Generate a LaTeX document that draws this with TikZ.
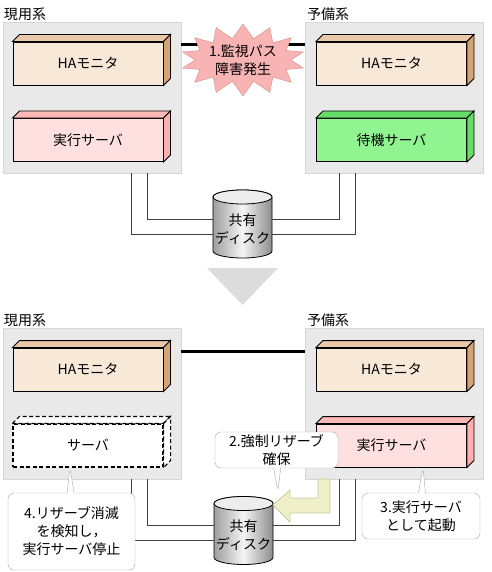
\documentclass[tikz,border=0pt]{standalone}
\usepackage{fontspec}
\setmainfont{Noto Sans CJK JP}
\usepackage{tikz}
\usetikzlibrary{shapes.symbols,shapes.callouts}

\definecolor{panelgray}{HTML}{E9E9E9}
\definecolor{panelline}{HTML}{D6D6D6}
\definecolor{hafront}{HTML}{F8E8D8}
\definecolor{hatop}{HTML}{E8C8A8}
\definecolor{haside}{HTML}{D4A478}
\definecolor{exfront}{HTML}{FFE0E0}
\definecolor{extop}{HTML}{FFB8B8}
\definecolor{exside}{HTML}{FFB0B0}
\definecolor{sbfront}{HTML}{90F590}
\definecolor{sbtop}{HTML}{66DD66}
\definecolor{burstfill}{HTML}{F8B4B4}
\definecolor{burstline}{HTML}{D88A8A}
\definecolor{arrowfill}{HTML}{F0F0C8}
\definecolor{arrowline}{HTML}{C8C8A0}
\definecolor{nextgray}{HTML}{DCDCDC}

\newcommand{\jpsize}{\fontsize{14}{18}\selectfont}

\tikzset{panel/.style={draw=panelline,fill=panelgray,minimum width=178pt,minimum height=151pt,inner sep=0pt},
  syslabel/.style={anchor=south west,inner sep=0pt,font=\jpsize},
  cube/.style={draw,line width=0.9pt,minimum width=150pt,minimum height=43pt,inner sep=0pt,font=\jpsize},
  lostcube/.style={draw,line width=1.1pt,dash pattern=on 4pt off 2.5pt,fill=white},
  hbpath/.style={line width=3.2pt},
  link/.style={draw=black!75,line width=0.8pt},
  disktext/.style={inner sep=0pt,minimum width=59pt,align=center,font=\jpsize},
  burst/.style={starburst,starburst points=14,starburst point height=14pt,random starburst=0,
    fill=burstfill,draw=burstline,minimum width=96pt,minimum height=68pt,inner sep=0pt,align=center,font=\jpsize},
  note/.style={rectangle callout,callout pointer width=7pt,draw=black!35,fill=white,rounded corners=6pt,
    inner sep=0pt,align=center,font=\jpsize}}

% name, position, front, top, side, text
\newcommand{\blockcube}[6]{%
  \node[cube,#3] (#1) at (#2) {#6};
  \draw[line width=0.9pt,#4] (#1.north west) -- ++(7,7) -- ([shift={(7,7)}]#1.north east) -- (#1.north east) -- cycle;
  \draw[line width=0.9pt,#5] (#1.north east) -- ++(7,7) -- ([shift={(7,7)}]#1.south east) -- (#1.south east) -- cycle;
}

% name, body centre
\newcommand{\shareddisk}[2]{%
  \draw[line width=0.8pt,left color=black!38,right color=black!45,middle color=black!4]
    ([shift={(-29.5,27)}]#2) -- ([shift={(-29.5,-27)}]#2)
    arc[start angle=180,end angle=360,x radius=29.5,y radius=7]
    -- ([shift={(29.5,27)}]#2)
    arc[start angle=0,end angle=180,x radius=29.5,y radius=7] -- cycle;
  \draw[line width=0.8pt,fill=black!7] ([yshift=27]#2) ellipse [x radius=29.5,y radius=7];
  \node[disktext] (#1) at ([yshift=-5]#2) {共有\\ディスク};
}

\begin{document}
\begin{tikzpicture}[x=1pt,y=1pt]
\useasboundingbox (0,0) rectangle (491,-572);

% before
\node[panel,label={[syslabel,xshift=1,yshift=1]north west:現用系}] (actA) at (92,-97.5) {};
\node[panel,label={[syslabel,xshift=2,yshift=1]north west:予備系}] (stbA) at (394,-97.5) {};
\draw[hbpath] ([yshift=-23]actA.north east) -- ([yshift=-23]stbA.north west);

\blockcube{haA}{88,-63.5}{fill=hafront}{fill=hatop}{fill=haside}{HAモニタ}
\blockcube{exA}{88,-140}{fill=exfront}{fill=extop}{fill=exside}{実行サーバ}
\blockcube{haB}{391.5,-63.5}{fill=hafront}{fill=hatop}{fill=haside}{HAモニタ}
\blockcube{sbB}{391.5,-140}{fill=sbfront}{fill=sbtop}{fill=sbtop}{待機サーバ}

\shareddisk{diskA}{242.5,-224}
\draw[link] ([xshift=55]actA.south) |- ([yshift=10]diskA.west);
\draw[link] ([xshift=39]actA.south) |- ([yshift=-5]diskA.west);
\draw[link] ([xshift=-55]stbA.south) |- ([yshift=10]diskA.east);
\draw[link] ([xshift=-39]stbA.south) |- ([yshift=-5]diskA.east);

\node[burst] (fault) at (243,-60) {1.監視パス\\障害発生};

% next state
\fill[nextgray] (207,-268) -- (278,-268) -- (242.5,-305) -- cycle;

% after
\node[panel,label={[syslabel,xshift=1,yshift=1]north west:現用系}] (actC) at (92,-403.5) {};
\node[panel,label={[syslabel,xshift=2,yshift=1]north west:予備系}] (stbC) at (394,-403.5) {};
\draw[hbpath] ([yshift=-24]actC.north east) -- ([yshift=-24]stbC.north west);

\blockcube{haC}{88,-369.5}{fill=hafront}{fill=hatop}{fill=haside}{HAモニタ}
\blockcube{svC}{88,-445.5}{lostcube}{lostcube}{lostcube}{サーバ}
\blockcube{haD}{391.5,-369.5}{fill=hafront}{fill=hatop}{fill=haside}{HAモニタ}
\blockcube{exD}{391.5,-445.5}{fill=exfront}{fill=extop}{fill=exside}{実行サーバ}

\shareddisk{diskC}{243.5,-530.5}
\draw[link] ([xshift=55]actC.south) |- ([yshift=10]diskC.west);
\draw[link] ([xshift=39]actC.south) |- ([yshift=-5]diskC.west);
\draw[link] ([xshift=-55]stbC.south) |- ([yshift=10]diskC.east);
\draw[link] ([xshift=-39]stbC.south) |- ([yshift=-5]diskC.east);

% reserve arrow
\draw[fill=arrowfill,draw=arrowline,line width=0.8pt]
  (318,-479) -- (330,-479) -- (330,-513) -- (290,-513) -- (290,-522) -- (273,-505)
  -- (290,-490) -- (290,-498) -- (318,-498) -- cycle;

\coordinate (reserve) at (278,-492);
\node[note,minimum width=123pt,minimum height=36pt,callout absolute pointer={(reserve)}] (n2) at (276.5,-450)
  {2.強制リザーブ\\確保};
\node[note,minimum width=118pt,minimum height=46pt,callout absolute pointer={([xshift=31.5]exD.south)}] (n3) at (421,-516)
  {3.実行サーバ\\として起動};
\node[note,minimum width=127pt,minimum height=77pt,callout absolute pointer={([xshift=-18]svC.south)}] (n4) at (71.5,-531.5)
  {4.リザーブ消滅\\を検知し，\\実行サーバ停止};

\end{tikzpicture}
\end{document}
